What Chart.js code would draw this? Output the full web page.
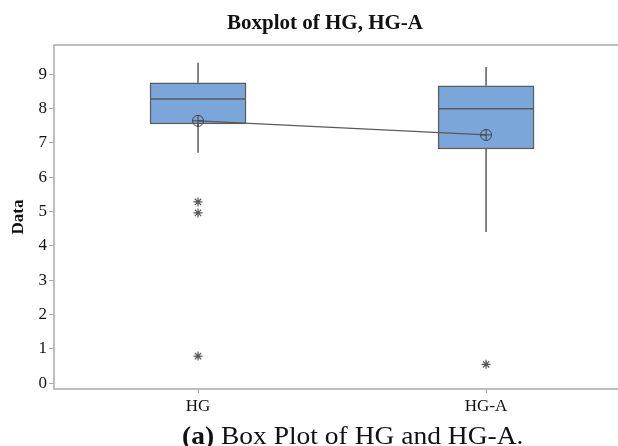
<!DOCTYPE html>
<html>
<head>
<meta charset="utf-8">
<script src="https://cdn.jsdelivr.net/npm/chart.js@4"></script>
<style>
  body { margin: 0; background: #fff; }
  #wrap { position: relative; width: 618px; height: 446px; }
  #title {
    position: absolute; left: 125px; top: 9px; width: 400px;
    text-align: center; font-family: 'Liberation Serif', serif;
    font-size: 21px; font-weight: bold; line-height: 26px; color: #111;
  }
  #caption {
    position: absolute; left: 182px; top: 422px; white-space: nowrap;
    font-family: 'Liberation Serif', serif;
    font-size: 25px; line-height: 28px; color: #111;
    transform: scaleX(1.1); transform-origin: left center;
  }
</style>
</head>
<body>
<div id="wrap">
  <canvas id="boxChart" width="618" height="446"></canvas>
  <div id="title">Boxplot of HG, HG-A</div>
  <div id="caption"><b>(a)</b> Box Plot of HG and HG-A.</div>
</div>
<script>
// boxplot values
const categories = ['HG', 'HG-A'];
const q1 = [7.55, 6.82];
const q3 = [8.75, 8.66];
const medians = [8.28, 7.99];
const whiskerLow = [6.71, 4.40];
const whiskerHigh = [9.33, 9.21];
const means = [7.64, 7.23];
const outliersHG = [5.28, 4.96, 0.79];
const outliersHGA = [0.55];
const yTicks = [0, 1, 2, 3, 4, 5, 6, 7, 8, 9];

const boxWidth = 96;
const lineGray = '#5c5c5c';

// x position of each category on the linear x axis
const xPos = categories.map((c, i) => i + 1);

// medians and whiskers, drawn right after the boxes
const boxParts = {
	id: 'boxParts',
	afterDatasetDraw(chart, args) {
		if (args.index !== 0) return;
		const ctx = chart.ctx;
		const x = chart.scales.x;
		const y = chart.scales.y;
		ctx.save();
		ctx.strokeStyle = lineGray;
		ctx.lineWidth = 1.5;
		xPos.forEach((p, i) => {
			const px = x.getPixelForValue(p);
			ctx.beginPath();
			ctx.moveTo(px, y.getPixelForValue(q3[i]));
			ctx.lineTo(px, y.getPixelForValue(whiskerHigh[i]));
			ctx.moveTo(px, y.getPixelForValue(q1[i]));
			ctx.lineTo(px, y.getPixelForValue(whiskerLow[i]));
			ctx.moveTo(px - boxWidth / 2, y.getPixelForValue(medians[i]));
			ctx.lineTo(px + boxWidth / 2, y.getPixelForValue(medians[i]));
			ctx.stroke();
		});
		ctx.restore();
	}
};

// plot frame (top, left, bottom)
const frame = {
	id: 'frame',
	afterDraw(chart) {
		const a = chart.chartArea;
		const ctx = chart.ctx;
		ctx.save();
		ctx.strokeStyle = '#ababab';
		ctx.lineWidth = 1.5;
		ctx.beginPath();
		ctx.moveTo(chart.width + 2, a.top);
		ctx.lineTo(a.left, a.top);
		ctx.lineTo(a.left, a.bottom);
		ctx.lineTo(chart.width + 2, a.bottom);
		ctx.stroke();
		ctx.restore();
	}
};

const data = {
	datasets: [{
		type: 'bar',
		data: xPos.map((p, i) => ({ x: p, y: [q1[i], q3[i]] })),
		backgroundColor: '#7ba6d9',
		borderColor: lineGray,
		borderWidth: 1.5,
		borderSkipped: false,
		barThickness: boxWidth,
		order: 5
	}, {
		type: 'line',
		data: xPos.map((p, i) => ({ x: p, y: means[i] })),
		borderColor: '#5a5a5a',
		borderWidth: 1.2,
		pointStyle: 'circle',
		pointRadius: 5.5,
		pointBorderWidth: 1,
		pointBorderColor: '#444',
		pointBackgroundColor: 'rgba(0,0,0,0)',
		order: 2
	}, {
		type: 'scatter',
		data: xPos.map((p, i) => ({ x: p, y: means[i] })),
		pointStyle: 'cross',
		pointRadius: 5.5,
		pointBorderWidth: 1,
		pointBorderColor: '#444',
		order: 1
	}, {
		type: 'scatter',
		data: outliersHG.map(v => ({ x: xPos[0], y: v }))
			.concat(outliersHGA.map(v => ({ x: xPos[1], y: v }))),
		pointStyle: 'star',
		pointRadius: 4.5,
		pointBorderWidth: 1.2,
		pointBorderColor: '#555',
		order: 1
	}]
};

const config = {
	type: 'bar',
	data: data,
	options: {
		responsive: false,
		animation: false,
		layout: {
			autoPadding: false,
			padding: { left: 0, right: 0, top: 45, bottom: 0 }
		},
		scales: {
			x: {
				type: 'linear',
				offset: false,
				min: 0.5,
				max: 2.458,
				afterBuildTicks: s => { s.ticks = xPos.map(v => ({ value: v })); },
				afterFit: s => { s.height = 57; },
				grid: {
					offset: false,
					drawOnChartArea: false,
					drawTicks: true,
					tickLength: 4,
					color: '#aaaaaa'
				},
				border: { display: false },
				ticks: {
					padding: 3,
					color: '#111',
					maxRotation: 0,
					font: { family: 'Liberation Serif', size: 17 },
					callback: v => categories[v - 1]
				}
			},
			y: {
				min: -0.17,
				max: 9.85,
				afterBuildTicks: s => { s.ticks = yTicks.map(v => ({ value: v })); },
				afterFit: s => { s.width = 54; },
				grid: {
					drawOnChartArea: false,
					drawTicks: true,
					tickLength: 5,
					color: '#aaaaaa'
				},
				border: { display: false },
				ticks: {
					padding: 2,
					color: '#111',
					font: { family: 'Liberation Serif', size: 17 }
				},
				title: {
					display: true,
					text: 'Data',
					color: '#111',
					padding: { top: 8, bottom: 0 },
					font: { family: 'Liberation Serif', size: 17, weight: 'bold' }
				}
			}
		},
		plugins: {
			legend: { display: false },
			tooltip: { enabled: false },
			title: { display: false }
		}
	},
	plugins: [boxParts, frame]
};

document.addEventListener('DOMContentLoaded', () => {
	const ctx = document.getElementById('boxChart').getContext('2d');
	new Chart(ctx, config);
});
</script>
</body>
</html>
